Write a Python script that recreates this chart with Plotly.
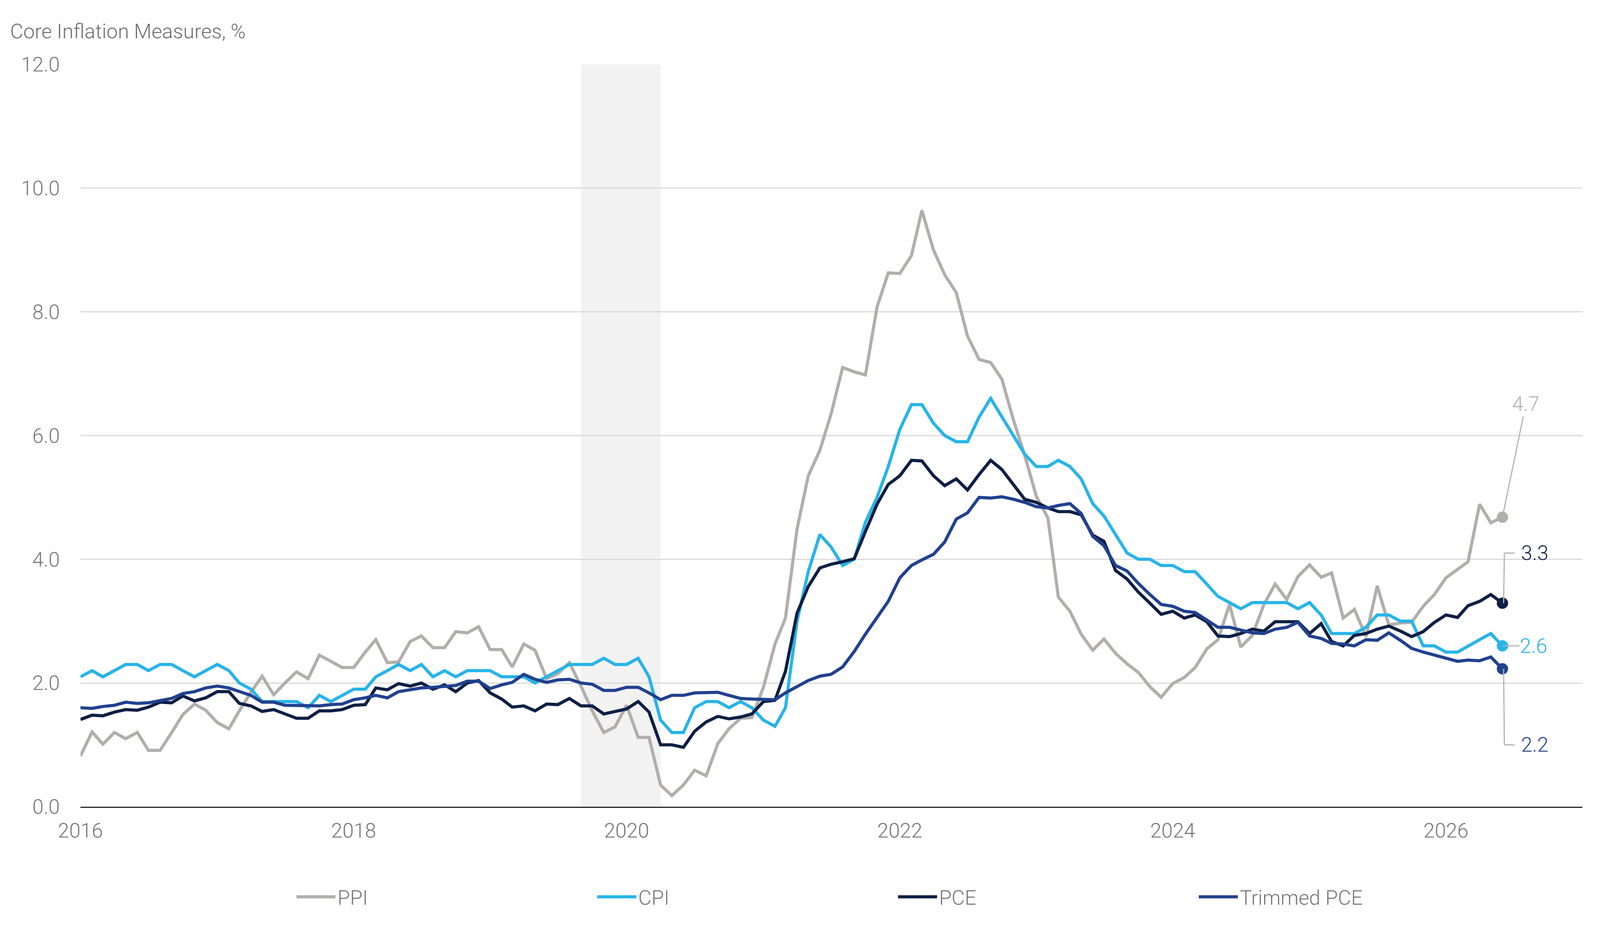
import pandas as pd
import plotly.graph_objects as go

# monthly data, Jan 2016 - Jun 2026
dates = pd.date_range('2016-01-01', periods=126, freq='MS')

ppi = [0.82, 1.21, 1.01, 1.2, 1.1, 1.2, 0.91, 0.91, 1.2, 1.49, 1.66, 1.56,
       1.36, 1.26, 1.55, 1.85, 2.11, 1.81, 2.0, 2.18, 2.07, 2.45, 2.35, 2.25,
       2.25, 2.5, 2.7, 2.33, 2.34, 2.67, 2.76, 2.57, 2.57, 2.83, 2.81, 2.91,
       2.54, 2.54, 2.26, 2.63, 2.53, 2.07, 2.15, 2.33, 1.95, 1.55, 1.2, 1.29,
       1.64, 1.12, 1.12, 0.35, 0.18, 0.35, 0.59, 0.5, 1.02, 1.26, 1.43, 1.44,
       1.93, 2.63, 3.05, 4.49, 5.35, 5.76, 6.35, 7.1, 7.03, 6.98, 8.08, 8.63,
       8.62, 8.91, 9.64, 9.0, 8.6, 8.31, 7.61, 7.23, 7.18, 6.91, 6.25, 5.68,
       5.02, 4.67, 3.39, 3.16, 2.79, 2.53, 2.71, 2.48, 2.31, 2.17, 1.94, 1.77,
       1.99, 2.09, 2.25, 2.55, 2.7, 3.27, 2.58, 2.77, 3.27, 3.6, 3.35, 3.72,
       3.91, 3.71, 3.78, 3.05, 3.19, 2.75, 3.57, 2.94, 2.97, 2.98, 3.24, 3.43,
       3.7, 3.83, 3.96, 4.89, 4.59, 4.68]

cpi = [2.1, 2.2, 2.1, 2.2, 2.3, 2.3, 2.2, 2.3, 2.3, 2.2, 2.1, 2.2,
       2.3, 2.2, 2.0, 1.9, 1.7, 1.7, 1.7, 1.7, 1.6, 1.8, 1.7, 1.8,
       1.9, 1.9, 2.1, 2.2, 2.3, 2.2, 2.3, 2.1, 2.2, 2.1, 2.2, 2.2,
       2.2, 2.1, 2.1, 2.1, 2.0, 2.1, 2.2, 2.3, 2.3, 2.3, 2.4, 2.3,
       2.3, 2.4, 2.1, 1.4, 1.2, 1.2, 1.6, 1.7, 1.7, 1.6, 1.7, 1.6,
       1.4, 1.3, 1.6, 3.0, 3.8, 4.4, 4.2, 3.9, 4.0, 4.6, 5.0, 5.5,
       6.1, 6.5, 6.5, 6.2, 6.0, 5.9, 5.9, 6.3, 6.6, 6.3, 6.0, 5.7,
       5.5, 5.5, 5.6, 5.5, 5.3, 4.9, 4.7, 4.4, 4.1, 4.0, 4.0, 3.9,
       3.9, 3.8, 3.8, 3.6, 3.4, 3.3, 3.2, 3.3, 3.3, 3.3, 3.3, 3.2,
       3.3, 3.1, 2.8, 2.8, 2.8, 2.9, 3.1, 3.1, 3.0, 3.0, 2.6, 2.6,
       2.5, 2.5, 2.6, 2.7, 2.8, 2.6]

pce = [1.41, 1.48, 1.47, 1.53, 1.57, 1.56, 1.61, 1.69, 1.68, 1.79, 1.71, 1.76,
       1.86, 1.86, 1.67, 1.63, 1.54, 1.57, 1.5, 1.43, 1.43, 1.55, 1.55, 1.57,
       1.64, 1.65, 1.92, 1.89, 1.99, 1.95, 2.0, 1.9, 1.97, 1.86, 2.0, 2.04,
       1.84, 1.74, 1.61, 1.63, 1.55, 1.66, 1.65, 1.75, 1.63, 1.63, 1.5, 1.54,
       1.58, 1.7, 1.53, 1.0, 1.0, 0.96, 1.22, 1.37, 1.46, 1.42, 1.45, 1.5,
       1.7, 1.72, 2.19, 3.13, 3.56, 3.86, 3.92, 3.96, 4.01, 4.45, 4.89, 5.21,
       5.35, 5.6, 5.59, 5.35, 5.19, 5.3, 5.12, 5.37, 5.6, 5.45, 5.21, 4.97,
       4.92, 4.83, 4.77, 4.77, 4.72, 4.39, 4.29, 3.82, 3.68, 3.47, 3.29, 3.11,
       3.16, 3.05, 3.1, 2.99, 2.76, 2.75, 2.8, 2.87, 2.84, 2.99, 2.99, 2.99,
       2.8, 2.96, 2.67, 2.6, 2.77, 2.8, 2.87, 2.92, 2.84, 2.75, 2.83, 2.98,
       3.1, 3.06, 3.25, 3.32, 3.43, 3.29]

trimmed_pce = [1.6, 1.59, 1.62, 1.64, 1.69, 1.67, 1.68, 1.72, 1.75, 1.83, 1.86, 1.92,
               1.95, 1.92, 1.86, 1.8, 1.69, 1.69, 1.64, 1.64, 1.63, 1.63, 1.65, 1.66,
               1.73, 1.76, 1.8, 1.76, 1.86, 1.89, 1.92, 1.93, 1.94, 1.96, 2.03, 2.03,
               1.91, 1.97, 2.01, 2.14, 2.06, 2.01, 2.05, 2.06, 2.0, 1.98, 1.88, 1.88,
               1.93, 1.93, 1.84, 1.73, 1.8, 1.8, 1.84, 1.84, 1.85, 1.8, 1.75, 1.74,
               1.74, 1.73, 1.84, 1.94, 2.04, 2.11, 2.14, 2.26, 2.51, 2.79, 3.06, 3.32,
               3.7, 3.9, 3.99, 4.08, 4.28, 4.65, 4.75, 5.0, 4.99, 5.01, 4.97, 4.92,
               4.85, 4.83, 4.87, 4.9, 4.74, 4.37, 4.22, 3.9, 3.81, 3.61, 3.43, 3.27,
               3.24, 3.16, 3.14, 3.02, 2.9, 2.9, 2.86, 2.81, 2.8, 2.87, 2.9, 2.98,
               2.76, 2.72, 2.64, 2.63, 2.6, 2.7, 2.69, 2.81, 2.69, 2.56, 2.5, 2.45,
               2.4, 2.35, 2.37, 2.36, 2.42, 2.23]

series = [('PPI', ppi, '#b1aeac'),
          ('CPI', cpi, '#27b4e8'),
          ('PCE', pce, '#0f1f45'),
          ('Trimmed PCE', trimmed_pce, '#21418f')]

# recession shading and the y level of each end label
recession = ('2019-09-01', '2020-04-01')
label_y = {'PPI': 6.5, 'CPI': 2.6, 'PCE': 4.1, 'Trimmed PCE': 1.0}

grey_txt = '#767676'
leader = '#b3b3b3'

fig = go.Figure()
for name, vals, col in series:
    fig.add_trace(go.Scatter(x=dates, y=vals, name=name, mode='lines',
                             line=dict(color=col, width=8)))
for name, vals, col in series:
    fig.add_trace(go.Scatter(x=[dates[-1]], y=[vals[-1]], mode='markers',
                             marker=dict(color=col, size=29), showlegend=False,
                             hoverinfo='skip'))

fig.add_vrect(x0=recession[0], x1=recession[1], y0=0, y1=1,
              fillcolor='#f2f2f2', line_width=0, layer='below')

last = dates[-1]
for name, vals, col in series:
    v = vals[-1]
    ly = label_y[name]
    txt = f'{v:.1f}'
    lab_font = dict(family='Roboto', size=52, color=col)
    if name == 'PPI':
        fig.add_annotation(x=last, y=v, text=txt, showarrow=True, ax=60, ay=-290,
                           arrowhead=0, arrowwidth=3, arrowcolor=leader, font=lab_font)
    elif name == 'CPI':
        fig.add_annotation(x=last, y=v, text=txt, showarrow=True, ax=80, ay=0,
                           arrowhead=0, arrowwidth=3, arrowcolor=leader, font=lab_font)
    else:
        # elbow leader: vertical from the point to the label level, then across
        fig.add_shape(type='line', xref='x', yref='y', xsizemode='pixel', xanchor=last,
                      x0=3, x1=5, y0=v, y1=ly, line=dict(color=leader, width=3))
        fig.add_shape(type='line', xref='x', yref='y', xsizemode='pixel', xanchor=last,
                      x0=5, x1=31, y0=ly, y1=ly, line=dict(color=leader, width=3))
        fig.add_annotation(x=last, y=ly, text=txt, showarrow=False, xanchor='left',
                           xshift=46, font=lab_font)

W, H = 4080, 2376
fig.update_layout(
    width=W, height=H,
    paper_bgcolor='white', plot_bgcolor='white',
    margin=dict(l=198, r=37, t=157, b=318),
    font=dict(family='Roboto', size=52, color=grey_txt, weight=300),
    title=dict(text='Core Inflation Measures, %', xref='container', yref='container',
               x=18 / W, xanchor='left', y=1 - 72 / H, yanchor='middle',
               font=dict(family='Roboto', size=52, color='#6e6e6e', weight=300)),
    legend=dict(orientation='h', xref='paper', yref='container', x=0.1425, xanchor='left',
                y=1 - 2289 / H, yanchor='middle', entrywidth=655, itemwidth=100,
                font=dict(family='Roboto', size=52, color=grey_txt, weight=300)),
    showlegend=True,
)
fig.update_xaxes(range=['2016-01-01', '2027-01-01'], dtick='M24', tick0='2016-01-01',
                 tickformat='%Y', showgrid=False, showline=True, linecolor='#222222',
                 linewidth=3, ticks='', ticklabelstandoff=14, zeroline=False)
fig.update_yaxes(range=[0, 12], dtick=2, tickformat='.1f', showgrid=True,
                 gridcolor='#dadada', gridwidth=3, zeroline=False, showline=False,
                 ticks='', ticklabelstandoff=52)

fig.write_html('out.html')
